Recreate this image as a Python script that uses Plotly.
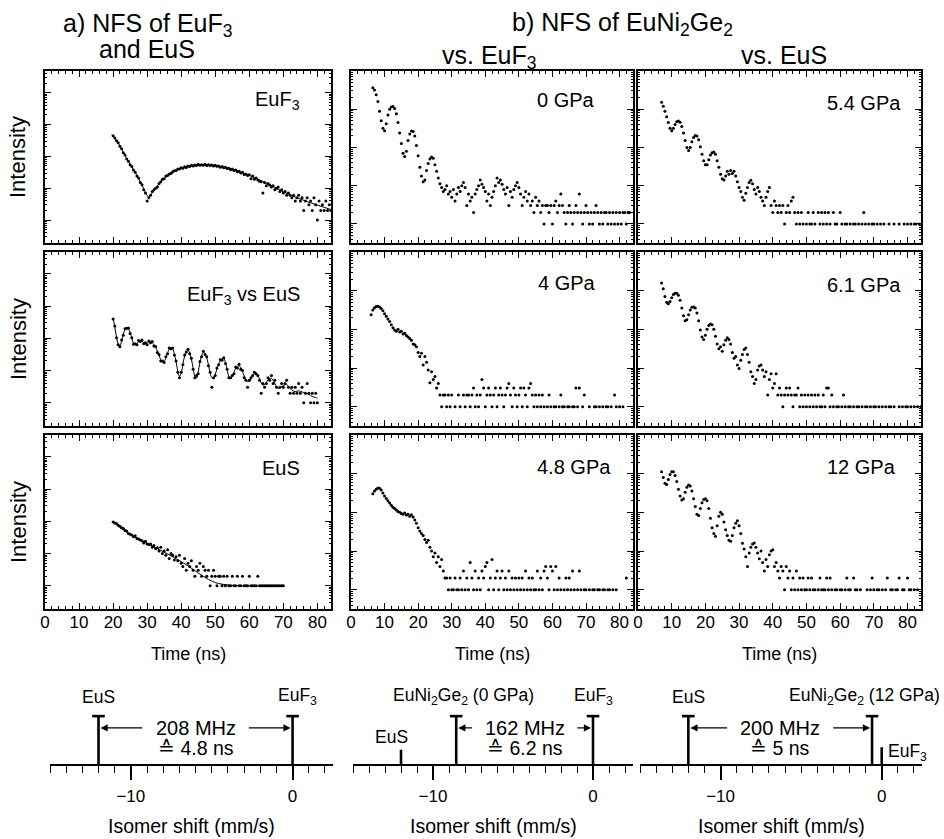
import numpy as np
import plotly.graph_objects as go

W, H = 944, 839
STEP = 0.5  # ns per time channel

# ---------------- data: log10(counts), None = zero counts ----------------
euf3_t0 = 20.0
euf3_log = [2.65,2.58,2.49,2.43,2.32,2.24,2.11,2.04,1.92,1.85,
            1.74,1.68,1.57,1.50,1.38,1.32,1.18,1.11,0.95,0.85,
            0.60,0.70,0.78,0.90,0.95,1.00,1.04,1.15,1.20,1.28,
            1.30,1.38,1.40,1.45,1.46,1.52,1.55,1.56,1.60,1.60,
            1.64,1.63,1.67,1.65,1.70,1.68,1.72,1.70,1.73,1.71,
            1.75,1.72,1.74,1.72,1.75,1.71,1.74,1.71,1.73,1.70,
            1.72,1.69,1.70,1.66,1.68,1.64,1.66,1.62,1.63,1.58,
            1.60,1.56,1.57,1.52,1.53,1.48,1.50,1.43,1.45,1.40,
            1.42,1.30,1.38,1.28,1.32,1.26,1.22,1.20,0.85,1.18,
            1.08,1.15,1.10,1.04,1.08,0.95,1.00,1.04,0.90,0.95,
            0.85,0.90,0.78,0.85,0.78,0.70,0.78,0.60,0.70,0.78,
            0.60,0.70,0.30,0.60,0.70,0.48,0.60,0.30,0.70,0.48,
            0.00,0.60,0.30,0.48,0.30,0.60,0.30,0.48,0.30]
euf3_fit_t = [19.6,20,21,22,23,24,25,26,27,28,29,30,30.5,31,32,33,34,35,36,37,
              38,39,40,42,44,46,48,50,52,54,56,58,60,62,64,66,68,70,72,74,76,78,80,82,84]
euf3_fit_log = [2.68,2.64,2.50,2.33,2.12,1.93,1.75,1.58,1.40,1.20,0.98,0.77,0.72,0.78,0.93,
                1.07,1.20,1.31,1.40,1.48,1.54,1.59,1.63,1.69,1.72,1.73,1.73,1.71,1.67,1.62,
                1.56,1.48,1.40,1.31,1.21,1.10,1.00,0.89,0.79,0.70,0.62,0.54,0.47,0.40,0.33]

vs_t0 = 20.0
vs_log = [2.60,2.38,2.02,1.80,1.74,1.95,2.10,2.30,2.31,2.32,
          2.15,2.02,1.82,1.83,1.80,1.93,1.90,1.95,1.83,1.86,
          1.80,1.92,1.86,1.90,1.76,1.75,1.56,1.50,1.30,1.30,
          1.25,1.43,1.52,1.70,1.68,1.70,1.48,1.30,0.95,0.78,
          0.95,1.18,1.48,1.58,1.66,1.52,1.38,1.04,0.78,0.85,
          0.90,1.28,1.43,1.60,1.50,1.43,1.15,0.95,0.48,0.78,
          0.85,1.08,1.18,1.34,1.32,1.40,1.22,1.04,0.78,0.78,
          0.85,0.90,1.11,1.08,1.20,1.04,1.00,0.78,0.70,0.48,
          0.70,0.78,0.85,0.95,0.90,0.85,0.70,0.30,0.60,0.48,
          0.60,0.78,0.70,0.85,0.60,0.70,0.48,0.30,0.48,0.60,
          0.48,0.60,0.70,0.48,0.30,0.48,0.30,0.48,0.30,0.60,
          0.30,0.48,0.00,0.30,0.60,0.30,0.00,0.30,0.00,0.30,
          0.00]
vs_fit_t0 = 20.0
vs_fit_log = [2.62,2.35,2.05,1.82,1.76,1.92,2.12,2.27,2.33,2.30,
              2.18,2.00,1.85,1.80,1.84,1.90,1.93,1.91,1.86,1.83,
              1.85,1.89,1.90,1.87,1.80,1.72,1.60,1.46,1.34,1.27,
              1.28,1.40,1.55,1.66,1.71,1.67,1.52,1.28,0.98,0.82,
              0.92,1.20,1.45,1.60,1.63,1.55,1.35,1.08,0.82,0.77,
              0.95,1.25,1.46,1.56,1.54,1.40,1.18,0.93,0.78,0.76,
              0.88,1.05,1.20,1.31,1.36,1.37,1.25,1.02,0.82,0.76,
              0.82,0.95,1.07,1.13,1.15,1.10,0.98,0.83,0.72,0.66,
              0.67,0.75,0.84,0.90,0.91,0.86,0.74,0.62,0.55,0.56,
              0.63,0.71,0.76,0.76,0.70,0.60,0.50,0.45,0.46,0.50,
              0.54,0.56,0.56,0.52,0.45,0.39,0.36,0.35,0.36,0.37,
              0.36,0.34,0.31,0.29,0.28,0.26,0.23,0.20,0.18,0.16,
              0.15]

eus_t0 = 20.0
eus_log = [1.98,1.95,1.93,1.88,1.85,1.80,1.78,1.72,1.70,1.62,
           1.60,1.58,1.52,1.55,1.47,1.45,1.42,1.40,1.33,1.38,
           1.30,1.28,1.30,1.20,1.25,1.15,1.18,1.08,1.20,1.00,
           1.08,0.95,1.12,0.85,1.00,0.95,0.80,0.90,0.78,0.95,
           0.70,0.60,0.85,0.48,0.70,0.60,0.78,0.48,0.30,0.60,
           0.48,0.70,0.30,0.60,0.48,0.30,0.48,0.00,0.30,0.48,
           0.30,0.00,0.30,0.30,0.00,0.30,0.00,0.30,0.00,0.00,
           0.30,0.00,0.00,0.30,0.00,0.00,0.30,0.00,0.00,0.00,
           0.30,0.00,0.00,0.00,0.00,0.30,0.00,0.00,0.00,0.00,
           0.00,0.00,0.00,0.00,0.00,0.00,0.00,0.00,0.00,0.00,
           0.00]
eus_fit_t = [20,22,24,26,28,30,32,34,36,38,40,42,44,46,48,50,52,54,56,60,65,70]
eus_fit_log = [1.98,1.82,1.66,1.54,1.43,1.32,1.21,1.10,0.99,0.87,0.75,0.62,0.47,0.33,
               0.20,0.10,0.05,0.02,0.01,0.0,0.0,0.0]

p0_t0 = 6.5
p0_log = [3.56,3.50,3.38,3.20,2.95,2.70,2.50,2.44,2.62,2.85,
          3.00,3.06,3.07,3.02,2.88,2.65,2.38,2.10,1.85,1.76,
          1.90,2.18,2.35,2.43,2.42,2.30,2.05,1.78,1.48,1.25,
          1.10,1.15,1.40,1.58,1.70,1.75,1.72,1.55,1.38,1.20,
          1.05,0.95,0.85,0.90,1.00,0.78,0.85,0.70,0.90,0.60,
          0.78,0.95,0.85,1.00,1.08,0.95,0.48,0.78,0.60,0.70,
          0.30,0.78,0.90,1.00,1.15,1.04,0.95,0.85,0.60,0.78,
          0.48,0.70,0.85,1.00,1.20,1.08,1.15,1.04,0.90,0.78,
          0.95,0.48,0.85,0.70,0.90,1.00,1.08,0.95,0.78,0.48,
          0.70,0.85,0.60,0.78,0.48,0.60,0.30,0.70,0.48,0.60,
          0.30,0.48,0.00,0.48,0.48,0.30,0.48,0.00,0.48,0.60,
          0.30,0.48,0.78,0.48,0.30,0.00,0.30,0.48,0.30,0.00,
          0.30,0.48,0.30,0.78,0.30,0.00,0.30,0.48,0.30,0.00,
          0.30,0.00,0.30,0.48,0.30,0.00,0.30,0.00,0.30,0.30,
          0.00,0.30,0.00,0.30,0.00,0.30,0.00,0.30,0.00,0.30,
          0.30,0.00,0.30,0.30]

p4_t0 = 6.0
p4_log = [2.38,2.50,2.56,2.59,2.60,2.58,2.54,2.48,2.40,2.34,
          2.27,2.20,2.12,2.04,1.98,1.95,2.00,1.93,1.95,1.88,
          1.90,1.84,1.80,1.76,1.72,1.62,1.60,1.55,1.40,1.30,
          1.38,1.08,1.30,1.15,0.95,0.62,0.90,0.70,0.78,0.48,
          0.60,0.30,0.00,0.30,0.30,0.00,0.30,0.00,0.30,None,
          0.00,None,0.30,0.00,None,0.30,0.00,0.30,0.30,0.00,
          0.30,0.48,0.00,0.30,0.00,0.30,0.70,0.48,0.00,0.30,
          0.48,0.30,0.00,0.30,0.48,0.00,0.30,0.48,0.30,0.00,
          0.30,0.48,0.60,0.30,0.00,0.48,0.30,0.00,0.30,0.48,
          0.00,0.48,0.30,0.00,0.48,0.60,0.30,0.00,0.30,0.00,
          0.30,0.00,0.30,0.00,None,0.00,0.30,0.00,None,0.00,
          0.00,None,0.00,0.30,0.00,0.00,None,0.00,0.00,None,
          0.00,0.00,0.48,0.00,0.48,None,0.00,0.30,None,None,
          0.00,None,None,0.00,0.00,None,0.00,None,0.00,None,
          0.00,0.00,None,0.00,None,0.30,0.00,None,0.00,None,
          0.00,None,None]

p48_t0 = 6.5
p48_log = [2.48,2.55,2.60,2.63,2.62,2.58,2.50,2.42,2.36,2.30,
           2.24,2.18,2.13,2.10,2.06,2.02,2.00,1.97,1.95,1.98,
           1.93,1.95,1.90,1.94,1.88,1.80,1.72,1.60,1.52,1.45,
           1.40,1.30,1.22,1.28,1.10,1.00,0.85,0.95,0.70,0.85,
           0.60,0.78,0.48,0.30,0.30,0.00,0.30,0.00,0.00,0.30,
           0.00,0.00,0.30,0.00,0.48,0.00,0.30,0.00,0.70,0.30,
           0.00,0.48,0.00,0.30,0.00,0.48,0.30,0.60,0.70,0.00,
           0.30,0.78,0.00,0.30,0.48,0.00,0.30,0.48,0.00,0.30,
           0.00,0.48,0.00,0.30,0.00,0.30,0.00,0.30,0.00,0.30,
           0.00,0.48,0.00,0.30,0.00,0.30,0.00,0.00,0.48,0.00,
           0.30,0.00,0.48,0.60,0.30,0.00,0.60,0.48,0.00,0.60,
           0.00,0.30,0.00,None,0.00,0.30,0.00,0.30,0.00,0.48,
           0.00,None,0.00,0.48,0.00,None,0.00,0.00,None,0.00,
           None,0.00,0.00,None,0.00,0.00,None,0.00,0.00,None,
           0.00,0.00,None,0.00,None,0.00,None,None,None,None,
           None,0.30,None,None]

p54_t0 = 7.0
p54_log = [3.18,3.08,2.95,2.80,2.65,2.50,2.44,2.50,2.60,2.67,
           2.69,2.66,2.55,2.38,2.18,2.00,1.92,2.00,2.15,2.26,
           2.31,2.30,2.20,2.02,1.82,1.65,1.55,1.55,1.68,1.80,
           1.86,1.88,1.82,1.65,1.48,1.30,1.18,1.15,1.25,1.38,
           1.30,1.40,1.32,1.38,1.25,1.10,0.95,0.85,0.70,0.62,
           0.80,0.95,1.08,1.14,1.05,0.90,0.78,0.95,0.85,0.70,
           0.60,0.48,0.70,0.85,0.95,0.48,0.30,0.60,0.48,0.30,
           0.48,0.30,0.48,0.00,0.30,0.48,0.30,0.60,0.70,0.30,
           0.00,0.30,0.00,0.30,0.00,None,0.00,0.30,0.00,0.00,
           0.30,0.00,None,0.30,0.00,0.30,0.00,0.30,0.00,0.30,
           0.00,None,0.30,0.00,0.00,None,0.30,0.00,None,0.00,
           0.00,None,0.00,None,0.00,0.00,None,0.00,None,0.00,
           0.30,0.00,None,0.00,None,0.00,0.00,None,0.00,None,
           0.00,None,0.00,None,None,0.00,None,None,0.00,None,
           None,0.00,None,None,0.00,None,0.00,None,0.00,None,
           0.00,0.00,None,0.00,None]

p61_t0 = 7.0
p61_log = [3.20,3.05,2.85,2.70,2.66,2.72,2.82,2.90,2.93,2.93,
           2.88,2.75,2.55,2.35,2.22,2.25,2.38,2.50,2.57,2.58,
           2.55,2.42,2.22,1.98,1.80,1.74,1.85,2.00,2.10,2.14,
           2.12,2.00,1.82,1.62,1.50,1.55,1.43,1.60,1.72,1.78,
           1.74,1.62,1.40,1.25,1.30,1.08,0.99,1.20,1.35,1.48,
           1.52,1.35,1.15,0.90,0.78,0.60,0.70,0.95,1.05,1.08,
           0.95,0.78,0.90,0.30,0.70,0.85,0.48,0.60,0.85,0.30,
           0.48,0.30,0.00,0.30,0.48,0.30,0.48,0.30,0.00,0.30,
           0.30,0.48,0.00,0.30,0.00,0.30,0.00,0.30,0.00,0.30,
           0.00,0.30,0.00,0.30,0.00,0.00,0.30,0.00,0.48,0.48,
           0.00,0.30,0.00,None,0.00,0.00,None,0.00,0.30,0.00,
           None,0.00,0.00,None,0.00,None,0.00,0.00,None,0.00,
           None,0.00,0.00,None,0.00,None,0.00,0.00,None,0.00,
           None,0.00,None,0.00,None,0.00,0.00,None,0.00,None,
           None,0.00,None,0.00,None,0.00,0.00,None,0.00,None,
           0.00,None,0.00,None,0.00]

p12_t0 = 7.0
p12_log = [3.05,2.90,2.75,2.72,2.85,2.98,3.05,3.05,2.95,2.80,
           2.60,2.42,2.32,2.35,2.52,2.65,2.71,2.68,2.55,2.35,
           2.15,1.95,1.92,2.10,2.25,2.33,2.35,2.30,2.10,1.85,
           1.60,1.45,1.38,1.65,1.90,2.00,1.95,1.75,1.55,1.40,
           1.28,1.25,1.40,1.60,1.72,1.78,1.65,1.45,1.20,1.05,
           0.85,0.60,0.95,1.10,1.18,1.21,1.10,0.95,0.80,1.00,
           0.70,0.48,0.78,0.60,0.90,1.00,1.03,0.60,0.70,0.48,
           0.30,0.60,0.48,0.00,0.60,0.30,0.48,0.00,0.30,0.00,
           0.48,0.00,0.30,0.00,0.30,0.00,0.00,0.30,0.00,0.30,
           0.00,0.00,None,0.00,0.30,0.00,0.00,0.00,0.30,0.00,
           0.30,0.00,None,0.00,0.00,None,0.00,0.00,None,0.00,
           0.30,0.00,0.00,None,0.30,0.00,0.00,None,0.00,None,
           None,None,0.00,None,0.00,0.30,0.00,None,0.00,0.00,
           None,0.00,None,0.00,0.30,None,0.00,0.00,None,0.00,
           0.00,0.30,None,0.00,0.00,None,0.30,0.00,0.00,None,
           0.00,None,0.00]

panel_labels = ["EuF<sub>3</sub>", "EuF<sub>3</sub> vs EuS", "EuS",
                "0 GPa", "4 GPa", "4.8 GPa",
                "5.4 GPa", "6.1 GPa", "12 GPa"]
time_ticks = [0, 10, 20, 30, 40, 50, 60, 70, 80]

# isomer-shift schematics (mm/s) and relative line heights
s1_names = ["EuS", "EuF<sub>3</sub>"]
s1_shift = [-12.0, 0.0]
s1_height = [0.57, 0.57]
s2_names = ["EuS", "EuNi<sub>2</sub>Ge<sub>2</sub> (0 GPa)", "EuF<sub>3</sub>"]
s2_shift = [-12.0, -8.55, 0.0]
s2_height = [0.17, 0.57, 0.57]
s3_names = ["EuS", "EuNi<sub>2</sub>Ge<sub>2</sub> (12 GPa)", "EuF<sub>3</sub>"]
s3_shift = [-12.0, -0.6, 0.0]
s3_height = [0.57, 0.57, 0.20]
freq_mhz = [208, 162, 200]
period_ns = ["4.8", "6.2", "5"]

# ---------------- layout helpers ----------------
FONT = "Liberation Sans, Arial, Helvetica, sans-serif"
def fx(p): return p / W
def fy(p): return 1 - p / H

cols = [(45, 331), (351, 633), (638, 921)]
rows = [(71, 243), (252, 426), (435, 609)]
yranges = [[-0.72, 4.68], [-0.5, 4.0], [-0.5, 4.0]]

fig = go.Figure()
layout = dict(width=W, height=H, margin=dict(l=0, r=0, t=0, b=0),
              paper_bgcolor="white", plot_bgcolor="white", showlegend=False,
              font=dict(family=FONT, color="black"))
annotations = []

def note(x, y, text, size, xanchor="center", yanchor="middle", **kw):
    d = dict(x=fx(x), y=fy(y), xref="paper", yref="paper", text=text, showarrow=False,
             xanchor=xanchor, yanchor=yanchor, font=dict(size=size, family=FONT))
    d.update(kw)
    annotations.append(d)

panels = [
    (euf3_t0, euf3_log, euf3_fit_t, euf3_fit_log),
    (vs_t0, vs_log, [vs_fit_t0 + STEP * i for i in range(len(vs_fit_log))], vs_fit_log),
    (eus_t0, eus_log, eus_fit_t, eus_fit_log),
    (p0_t0, p0_log, None, None),
    (p4_t0, p4_log, None, None),
    (p48_t0, p48_log, None, None),
    (p54_t0, p54_log, None, None),
    (p61_t0, p61_log, None, None),
    (p12_t0, p12_log, None, None),
]

label_pos = [  # (x px, y px, xanchor)
    (302, 100, "right"), (302, 295, "right"), (302, 468, "right"),
    (535, 100, "left"), (536, 283, "left"), (535, 467, "left"),
    (825, 103, "left"), (825, 285, "left"), (825, 467, "left"),
]

for i, (t0, vals, ft, fv) in enumerate(panels):
    c, r = i // 3, i % 3
    n = i + 1
    xa = "xaxis" if n == 1 else f"xaxis{n}"
    ya = "yaxis" if n == 1 else f"yaxis{n}"
    xs = "x" if n == 1 else f"x{n}"
    ys = "y" if n == 1 else f"y{n}"
    t = t0 + STEP * np.arange(len(vals))
    if ft is not None:
        fig.add_trace(go.Scatter(x=ft, y=fv, mode="lines", line=dict(color="black", width=1),
                                 line_shape="spline", xaxis=xs, yaxis=ys))
    fig.add_trace(go.Scatter(x=t, y=vals, mode="markers",
                             marker=dict(color="black", size=3, line=dict(width=0)),
                             xaxis=xs, yaxis=ys))
    yr = yranges[c]
    minor_y = [k + np.log10(m) for k in range(-1, 5) for m in range(2, 10)
               if yr[0] < k + np.log10(m) < yr[1]]
    layout[xa] = dict(domain=[fx(cols[c][0]), fx(cols[c][1])], range=[0, 84], anchor=ys,
                      showline=True, linecolor="black", linewidth=1.7, mirror="ticks",
                      ticks="inside", ticklen=6, tickwidth=1, tickcolor="black",
                      tickvals=time_ticks, showticklabels=(r == 2),
                      tickfont=dict(size=17, family=FONT), ticklabelstandoff=-3,
                      minor=dict(dtick=2, tick0=0, ticklen=3, ticks="inside", tickcolor="black"),
                      showgrid=False, zeroline=False, fixedrange=True, automargin=False)
    layout[ya] = dict(domain=[fy(rows[r][1]), fy(rows[r][0])], range=yr, anchor=xs,
                      showline=True, linecolor="black", linewidth=1.7, mirror="ticks",
                      ticks="inside", ticklen=6, tickcolor="black",
                      tickvals=[0, 1, 2, 3, 4], showticklabels=False,
                      minor=dict(tickvals=minor_y, ticklen=2.5, ticks="inside", tickcolor="black"),
                      showgrid=False, zeroline=False, fixedrange=True, automargin=False)
    lx, ly, anc = label_pos[i]
    note(lx, ly, panel_labels[i], 20, xanchor=anc)

# y titles and x titles
for r in range(3):
    note(18, (rows[r][0] + rows[r][1]) / 2, "Intensity", 22, textangle=-90)
for c in range(3):
    note((cols[c][0] + cols[c][1]) / 2, 654, "Time (ns)", 18)

# headings
heads = [("a) NFS of EuF<sub>3</sub>", 148, 25), ("and EuS", 147, 49),
         ("b) NFS of EuNi<sub>2</sub>Ge<sub>2</sub>", 622, 24),
         ("vs. EuF<sub>3</sub>", 489, 57), ("vs. EuS", 784, 55)]
for txt, x, y in heads:
    note(x, y, txt, 25)

# ---------------- isomer-shift schematics ----------------
sdom = [(50, 333), (353, 633), (640, 922)]
spec = [(s1_names, s1_shift, s1_height, [True, True], [0, 1]),
        (s2_names, s2_shift, s2_height, [False, True, True], [1, 2]),
        (s3_names, s3_shift, s3_height, [True, True, False], [0, 1])]
# label placement (layout only): (y in axis units, xshift px, xanchor)
spec_lab = [
    [(0.80, 0, "center"), (0.80, 5, "center")],
    [(0.32, -10, "center"), (0.80, 7, "center"), (0.80, 0, "center")],
    [(0.80, 0, "center"), (0.80, -8, "center"), (0.14, 4, "left")],
]
for k, (names, shifts, heights, caps, pair) in enumerate(spec):
    n = 10 + k
    xs, ys = f"x{n}", f"y{n}"
    for j, (sft, h) in enumerate(zip(shifts, heights)):
        fig.add_trace(go.Scatter(x=[sft, sft], y=[0, h], mode="lines",
                                 line=dict(color="black", width=2.6), xaxis=xs, yaxis=ys))
        if caps[j]:
            fig.add_trace(go.Scatter(x=[sft], y=[h], mode="markers",
                                     marker=dict(symbol="line-ew", size=9, color="black",
                                                 line=dict(width=2.6, color="black")),
                                     xaxis=xs, yaxis=ys))
        ly, xsh, anc = spec_lab[k][j]
        annotations.append(dict(x=sft, y=ly, xref=xs, yref=ys, text=names[j], showarrow=False,
                                xshift=xsh, xanchor=anc, yanchor="middle",
                                font=dict(size=17.5, family=FONT)))
    a, b = shifts[pair[0]], shifts[pair[1]]
    mid = (a + b) / 2
    annotations.append(dict(x=mid, y=0.43, xref=xs, yref=ys, text=f"{freq_mhz[k]} MHz",
                            showarrow=False, xanchor="center", yanchor="middle",
                            font=dict(size=20, family=FONT)))
    annotations.append(dict(x=mid, y=0.19, xref=xs, yref=ys, text=f"≙ {period_ns[k]} ns",
                            showarrow=False, xanchor="center", yanchor="middle",
                            font=dict(size=19.5, family=FONT)))
    for head, tail in [(a, mid - 3.2), (b, mid + 3.2)]:
        annotations.append(dict(x=head, y=0.43, ax=tail, ay=0.43, xref=xs, yref=ys,
                                axref=xs, ayref=ys, text="", showarrow=True, arrowhead=2,
                                arrowsize=1.3, arrowwidth=1.1, arrowcolor="black", standoff=2))
    layout[f"xaxis{n}"] = dict(domain=[fx(sdom[k][0]), fx(sdom[k][1])], range=[-15, 2.5],
                               anchor=ys, showline=True, linecolor="black", linewidth=1.6,
                               ticks="outside", tickvals=[-10, 0], ticklen=14, tickwidth=2.4,
                               tickcolor="black", tickfont=dict(size=17, family=FONT),
                               ticklabelstandoff=2,
                               minor=dict(dtick=1, tick0=0, ticklen=7, tickwidth=1,
                                          ticks="outside", tickcolor="black"),
                               showgrid=False, zeroline=False, fixedrange=True, automargin=False)
    layout[f"yaxis{n}"] = dict(domain=[fy(764), fy(680)], range=[0, 1], anchor=xs,
                               visible=False, fixedrange=True)
    note((sdom[k][0] + sdom[k][1]) / 2, 826, "Isomer shift (mm/s)", 19.5)

layout["annotations"] = annotations
fig.update_layout(**layout)
fig.write_html("out.html", config={"displayModeBar": False},
               post_script="document.body.style.margin='0';")
